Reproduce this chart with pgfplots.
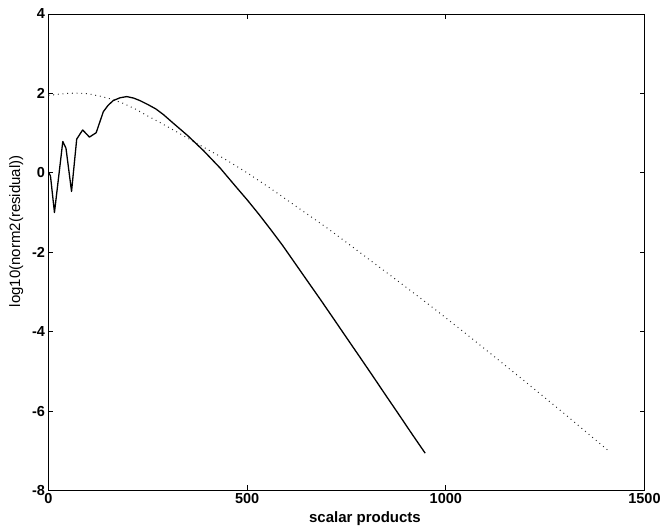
\documentclass[border=0pt]{standalone}
\usepackage{fontspec}
\setmainfont{Liberation Sans}
\usepackage{pgfplots}
\pgfplotsset{compat=1.18}
\begin{document}
\begin{tikzpicture}
\begin{axis}[
  scale only axis,
  width=596bp, height=476.5bp,
  xmin=0, xmax=1500, ymin=-8, ymax=4,
  xtick={0,500,1000,1500},
  ytick={-8,-6,-4,-2,0,2,4},
  tick align=inside,
  tick pos=both,
  major tick length=5bp,
  axis line style={line width=0.8bp},
  every tick/.style={black, line width=0.8bp},
  /pgf/number format/assume math mode=true,
  /pgf/number format/1000 sep={},
  ticklabel style={font=\bfseries\fontsize{14.5bp}{16bp}\selectfont},
  xticklabel style={yshift=1bp},
  xlabel={\bfseries scalar products},
  ylabel={log10(norm2(residual))},
  label style={font=\fontsize{15bp}{17bp}\selectfont},
  xlabel style={at={(ticklabel cs:0.531)}, yshift=-2bp},
  ylabel style={at={(ticklabel cs:0.544)}, yshift=2bp},
]
\coordinate (bl) at (rel axis cs:0,0);
\coordinate (tr) at (rel axis cs:1,1);
% dotted series
\addplot[black!85, line width=1bp, dash pattern=on 0.9bp off 3.8bp] coordinates {
(0,1.95) (25,1.98) (50,2.0) (75,2.01) (100,1.99) (130,1.93) (160,1.85)
(188,1.75) (220,1.60) (250,1.43) (280,1.27) (314,1.08) (360,0.82)
(400,0.59) (440,0.37) (500,0.0) (560,-0.40) (634,-0.92) (700,-1.38)
(755,-1.79) (820,-2.28) (876,-2.70) (930,-3.11) (973,-3.44) (1044,-4.0)
(1100,-4.45) (1200,-5.26) (1300,-6.08) (1407,-6.98)
};
% solid series
\addplot[black, line width=1.3bp, line join=round] coordinates {
(0,0.02) (5,-0.08) (15,-1.0) (36,0.79) (44,0.62) (58,-0.47) (71,0.85)
(86,1.08) (103,0.90) (120,1.01) (138,1.54) (150,1.70) (163,1.82) (180,1.89)
(197,1.92) (215,1.88) (230,1.82) (250,1.72) (270,1.61) (290,1.46) (314,1.25)
(350,0.94) (390,0.56) (432,0.12) (470,-0.33) (500,-0.68) (530,-1.05)
(557,-1.40) (590,-1.84) (620,-2.27) (650,-2.70) (685,-3.20) (720,-3.71)
(750,-4.15) (785,-4.66) (817,-5.13) (850,-5.62) (880,-6.06) (915,-6.58)
(948,-7.06)
};
\end{axis}
\pgfresetboundingbox
\path[use as bounding box] ([xshift=-48.5bp,yshift=-37.5bp]bl) rectangle ([xshift=20.5bp,yshift=14bp]tr);
\end{tikzpicture}
\end{document}
